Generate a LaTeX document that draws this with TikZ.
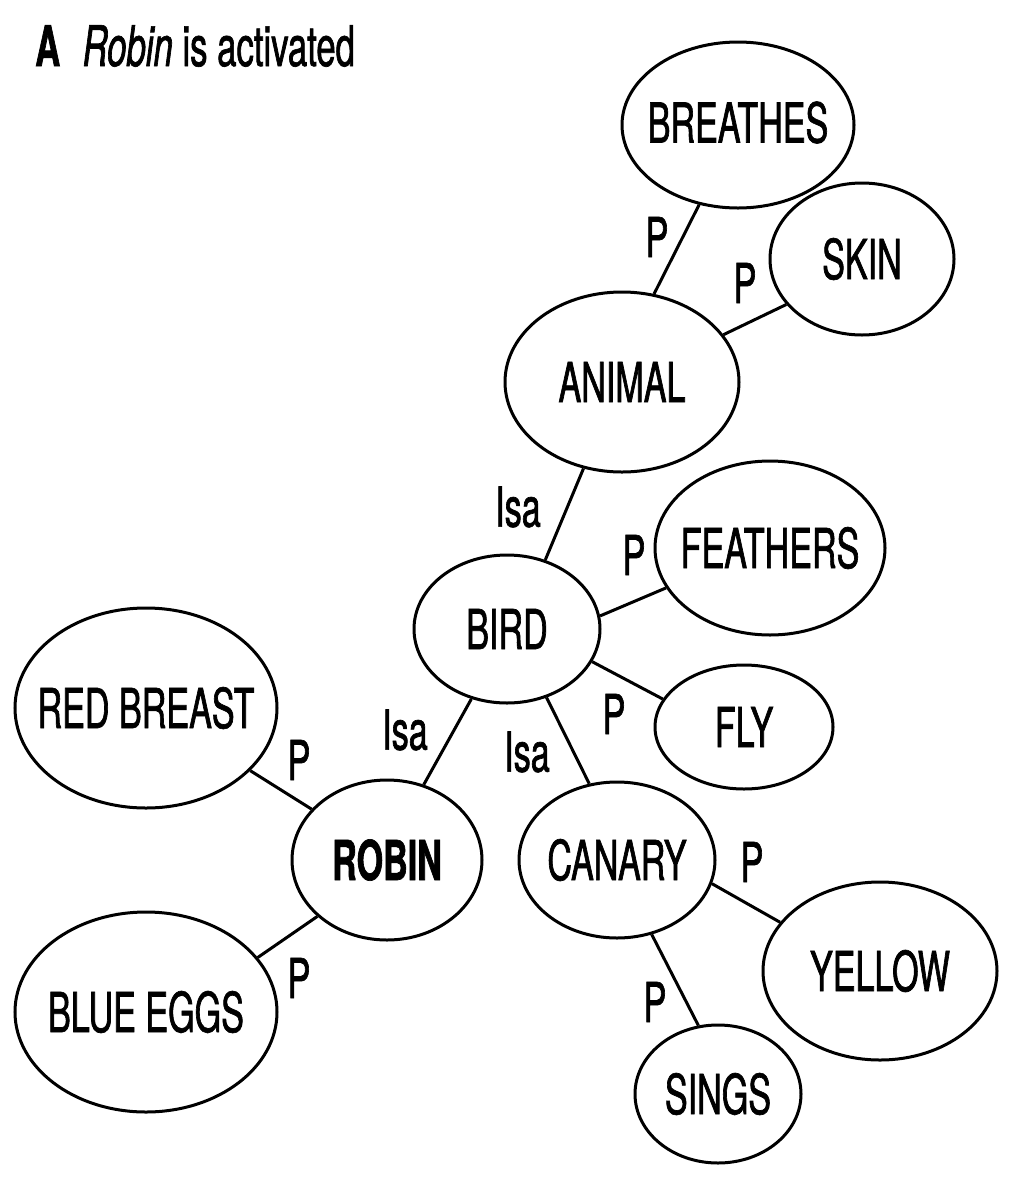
\documentclass[tikz,border=0pt]{standalone}
\usepackage{fontspec}
\setmainfont{TeX Gyre Heros}[FakeStretch=0.62,FakeBold=1.2]
\usetikzlibrary{shapes.geometric}
\newcommand{\ctext}[1]{\makebox[0pt]{#1}}
\begin{document}
\begin{tikzpicture}[x=1pt,y=-1pt,
  concept/.style={ellipse, draw, line width=3pt, inner sep=0pt,
    font=\fontsize{55}{60}\selectfont},
  rel/.style={line width=3pt},
  lab/.style={font=\fontsize{55}{60}\selectfont, inner sep=0pt}]
\useasboundingbox (0,0) rectangle (1015,1200);

\node[anchor=base west, inner sep=0pt, font=\fontsize{56}{60}\selectfont] (title) at (35,66)
  {\textbf{A}\hspace{0.4em}\textit{Robin} is activated};

\node[concept, minimum width=232pt, minimum height=166pt] (breathes) at (738,125) {\ctext{\raisebox{6pt}{BREATHES}}};
\node[concept, minimum width=184pt, minimum height=152pt] (skin) at (862,259) {\ctext{\raisebox{-7pt}{SKIN}}};
\node[concept, minimum width=234pt, minimum height=180pt] (animal) at (622,382) {\ctext{ANIMAL}};
\node[concept, minimum width=230pt, minimum height=174pt] (feathers) at (770,548) {\ctext{FEATHERS}};
\node[concept, minimum width=186pt, minimum height=148pt] (bird) at (507,629) {\ctext{\raisebox{-8pt}{BIRD}}};
\node[concept, minimum width=178pt, minimum height=124pt] (fly) at (744,727) {\ctext{FLY}};
\node[concept, minimum width=262pt, minimum height=200pt] (redbreast) at (146,708) {\ctext{RED BREAST}};
\node[concept, minimum width=190pt, minimum height=160pt] (robin) at (387,860) {\ctext{\textbf{ROBIN}}};
\node[concept, minimum width=196pt, minimum height=156pt] (canary) at (617,860) {\ctext{CANARY}};
\node[concept, minimum width=234pt, minimum height=178pt] (yellow) at (880,971) {\ctext{\raisebox{-5pt}{YELLOW}}};
\node[concept, minimum width=262pt, minimum height=200pt] (blueeggs) at (146,1012) {\ctext{\raisebox{-8pt}{BLUE EGGS}}};
\node[concept, minimum width=166pt, minimum height=138pt] (sings) at (718,1094) {\ctext{SINGS}};

\draw[rel] (breathes.244) -- (animal.70.6);
\draw[rel] (animal.25) -- (skin.211);
\draw[rel] (animal.246) -- (bird.61);
\draw[rel] (bird.8.8) -- (feathers.201);
\draw[rel] (bird.-21) -- (fly.161);
\draw[rel] (bird.243) -- (robin.64);
\draw[rel] (bird.-60) -- (canary.110.6);
\draw[rel] (redbreast.-31.6) -- (robin.146);
\draw[rel] (blueeggs.26) -- (robin.219);
\draw[rel] (canary.-14.6) -- (yellow.154);
\draw[rel] (canary.-65) -- (sings.106.6);

\node[lab] (l1) at (657,237) {P};
\node[lab] (l2) at (745,283) {P};
\node[lab] (l3) at (518,507) {Isa};
\node[lab] (l4) at (634,555) {P};
\node[lab] (l5) at (614,714) {P};
\node[lab] (l6) at (405,730) {Isa};
\node[lab] (l7) at (527,752) {Isa};
\node[lab] (l8) at (299,760) {P};
\node[lab] (l9) at (299,978) {P};
\node[lab] (l10) at (752,862) {P};
\node[lab] (l11) at (655,1002) {P};
\end{tikzpicture}
\end{document}
